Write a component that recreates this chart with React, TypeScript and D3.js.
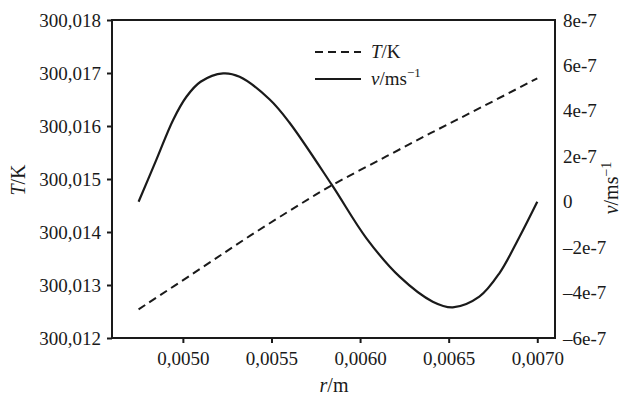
import React, { useEffect, useRef } from 'react'
import * as d3 from 'd3'

// r in metres
const tempR = [0.00475, 0.0051, 0.00538, 0.00566, 0.00584, 0.00615, 0.00643, 0.0067, 0.007]
const tempK = [300.01254, 300.01331, 300.01393, 300.01452, 300.01488, 300.01543, 300.01592, 300.01638, 300.0169]

const velR = [0.00475, 0.00485, 0.004945, 0.00502, 0.0051, 0.005227, 0.00532, 0.00549, 0.0056, 0.00584, 0.006035, 0.006223, 0.00641, 0.006523, 0.006673, 0.006786, 0.0069, 0.007]
const velV = [0, 1.84e-7, 3.6e-7, 4.62e-7, 5.28e-7, 5.65e-7, 5.5e-7, 4.5e-7, 3.5e-7, 0.75e-7, -1.6e-7, -3.3e-7, -4.4e-7, -4.65e-7, -4.18e-7, -3.15e-7, -1.54e-7, 0]

const xTicks = [0.005, 0.0055, 0.006, 0.0065, 0.007]
const leftTicks = [300.012, 300.013, 300.014, 300.015, 300.016, 300.017, 300.018]
const rightTicks = [-6e-7, -4e-7, -2e-7, 0, 2e-7, 4e-7, 6e-7, 8e-7]

const fmtComma = (v: number, digits: number) => v.toFixed(digits).replace('.', ',')
const fmtRight = (v: number) => {
  if (v === 0) return '0'
  const m = Math.round(v / 1e-7)
  return (m < 0 ? '\u2013' : '') + Math.abs(m) + 'e-7'
}

const App = () => {
  const svgRef = useRef<SVGSVGElement>(null)
  const width = 630
  const height = 397

  useEffect(() => {
    if (!svgRef.current) return
    const svg = d3.select(svgRef.current)
    svg.selectAll('*').remove()

    const left = 112, right = 555, top = 20, bottom = 338
    const ink = '#1a1a1a'
    const font = '"Liberation Serif", "Times New Roman", serif'

    const x = d3.scaleLinear().domain([0.0046, 0.0071]).range([left, right])
    const yT = d3.scaleLinear().domain([300.012, 300.018]).range([bottom, top])
    const yV = d3.scaleLinear().domain([-6e-7, 8e-7]).range([bottom, top])

    // Frame
    svg.append('rect')
      .attr('x', left)
      .attr('y', top)
      .attr('width', right - left)
      .attr('height', bottom - top)
      .attr('fill', 'none')
      .attr('stroke', ink)
      .attr('stroke-width', 2)

    // Left axis
    const leftAxis = d3.axisLeft(yT)
      .tickValues(leftTicks)
      .tickSize(5)
      .tickPadding(6)
      .tickFormat(d => fmtComma(d as number, 3))
    const gl = svg.append('g').attr('transform', `translate(${left},0)`).call(leftAxis)

    // Bottom axis
    const bottomAxis = d3.axisBottom(x)
      .tickValues(xTicks)
      .tickSize(5)
      .tickPadding(9)
      .tickFormat(d => fmtComma(d as number, 4))
    const gb = svg.append('g').attr('transform', `translate(0,${bottom})`).call(bottomAxis)

    // Right axis (labels only)
    const rightAxis = d3.axisRight(yV)
      .tickValues(rightTicks)
      .tickSize(0)
      .tickPadding(8)
      .tickFormat(d => fmtRight(d as number))
    const gr = svg.append('g').attr('transform', `translate(${right},0)`).call(rightAxis)

    ;[gl, gb, gr].forEach(g => {
      g.select('.domain').remove()
      g.selectAll('line').attr('stroke', ink).attr('stroke-width', 2)
      g.selectAll('text')
        .attr('fill', ink)
        .style('font-family', font)
        .style('font-size', '19px')
    })

    // Curves
    const tLine = d3.line<number>()
      .x((_, i) => x(tempR[i]))
      .y(d => yT(d))
      .curve(d3.curveCatmullRom.alpha(0.5))

    const vLine = d3.line<number>()
      .x((_, i) => x(velR[i]))
      .y(d => yV(d))
      .curve(d3.curveCatmullRom.alpha(0.5))

    svg.append('path')
      .datum(tempK)
      .attr('d', tLine)
      .attr('fill', 'none')
      .attr('stroke', ink)
      .attr('stroke-width', 2)
      .attr('stroke-dasharray', '8,5')

    svg.append('path')
      .datum(velV)
      .attr('d', vLine)
      .attr('fill', 'none')
      .attr('stroke', ink)
      .attr('stroke-width', 2.2)

    // Axis titles
    const yLab = svg.append('text')
      .attr('transform', 'translate(25,180) rotate(-90)')
      .attr('text-anchor', 'middle')
      .style('font-family', font)
      .style('font-size', '20px')
      .attr('fill', ink)
    yLab.append('tspan').style('font-style', 'italic').text('T')
    yLab.append('tspan').text('/K')

    const vLab = svg.append('text')
      .attr('transform', 'translate(618,188) rotate(-90)')
      .attr('text-anchor', 'middle')
      .style('font-family', font)
      .style('font-size', '20px')
      .attr('fill', ink)
    vLab.append('tspan').style('font-style', 'italic').text('v')
    vLab.append('tspan').text('/ms')
    vLab.append('tspan').attr('dy', -7).style('font-size', '14px').text('\u22121')

    const xLab = svg.append('text')
      .attr('x', 334)
      .attr('y', 392)
      .attr('text-anchor', 'middle')
      .style('font-family', font)
      .style('font-size', '20px')
      .attr('fill', ink)
    xLab.append('tspan').style('font-style', 'italic').text('r')
    xLab.append('tspan').text('/m')

    // Legend
    const lx = 315, lw = 46
    const legend = [
      { y: 52, dash: '8,5', label: 'T', unit: '/K', sup: '' },
      { y: 79, dash: null, label: 'v', unit: '/ms', sup: '\u22121' }
    ]
    legend.forEach(item => {
      svg.append('line')
        .attr('x1', lx)
        .attr('x2', lx + lw)
        .attr('y1', item.y)
        .attr('y2', item.y)
        .attr('stroke', ink)
        .attr('stroke-width', 2)
        .attr('stroke-dasharray', item.dash)
      const t = svg.append('text')
        .attr('x', lx + lw + 10)
        .attr('y', item.y + 6)
        .style('font-family', font)
        .style('font-size', '19px')
        .attr('fill', ink)
      t.append('tspan').style('font-style', 'italic').text(item.label)
      t.append('tspan').text(item.unit)
      if (item.sup) t.append('tspan').attr('dy', -8).style('font-size', '13px').text(item.sup)
    })
  }, [])

  return (
    <svg
      ref={svgRef}
      width={width}
      height={height}
      style={{ position: 'absolute', left: 0, top: 0, background: '#fff' }}
    />
  )
}

export default App
